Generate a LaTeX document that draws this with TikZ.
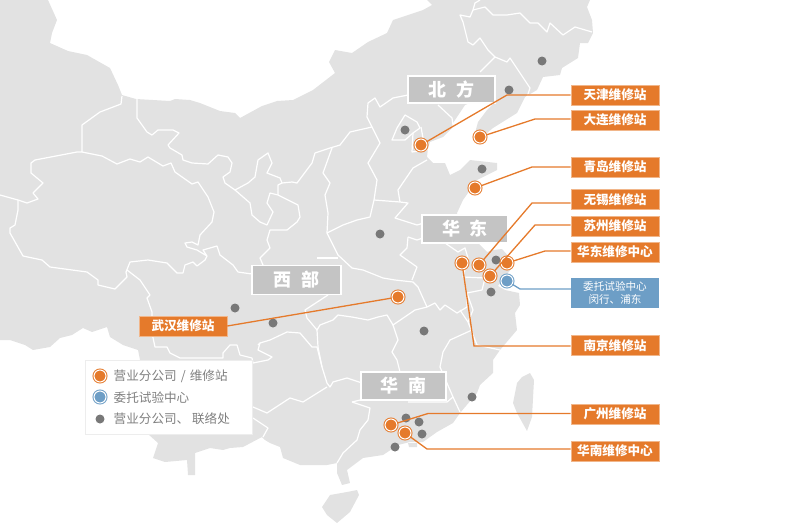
\documentclass[tikz,border=0pt]{standalone}
\usepackage{fontspec}
\setmainfont{Noto Sans CJK SC}
\usetikzlibrary{positioning, calc}

\definecolor{landgray}{HTML}{E2E2E2}
\definecolor{regiongray}{HTML}{C4C4C4}
\definecolor{siteorange}{HTML}{E57A2B}
\definecolor{testblue}{HTML}{6D9EC6}
\definecolor{dotgray}{HTML}{787878}
\definecolor{legendtext}{HTML}{808080}

\tikzset{
    land/.style={fill=landgray, draw=none},
    border/.style={draw=white, line width=1.2pt, line join=round},
    regionlabel/.style={rectangle, fill=regiongray, draw=white, line width=1.2pt, inner sep=0pt, text=white, font=\fontsize{18}{18}\bfseries\selectfont},
    sitelabel/.style={rectangle, fill=siteorange, draw=siteorange!55!white, line width=.6pt, minimum width=88pt, minimum height=20pt, inner sep=0pt, text=white, font=\fontsize{12.6}{12.6}\bfseries\selectfont},
    testlabel/.style={rectangle, fill=testblue, minimum width=88pt, minimum height=30pt, inner sep=0pt, align=center, text=white, font=\fontsize{10.6}{12.5}\selectfont},
    sitemark/.style={circle, fill=siteorange, draw=siteorange, double=white, double distance=1pt, line width=1pt, minimum size=12pt, inner sep=0pt},
    testmark/.style={circle, fill=testblue, draw=testblue, double=white, double distance=1pt, line width=1pt, minimum size=12pt, inner sep=0pt},
    officedot/.style={circle, fill=dotgray, minimum size=9pt, inner sep=0pt},
    leader/.style={draw=siteorange, line width=1.3pt},
    testleader/.style={draw=testblue, line width=1.3pt},
    legendbox/.style={rectangle, fill=white, draw=white!93!black, line width=.8pt, minimum width=167pt, minimum height=74pt, inner sep=0pt},
    legendentry/.style={anchor=west, inner sep=0pt, text=legendtext, font=\fontsize{12.6}{12.6}\selectfont}
}

\begin{document}
\begin{tikzpicture}[x=1pt, y=-1pt]
    \useasboundingbox (0,0) rectangle (800,525);

    % land
    \fill[land] (0,0) -- (48,0) -- (57,20) -- (52,33) -- (50,43) -- (68,51) -- (87,55) -- (110,68) -- (118,85) -- (122,95) -- (136,99) -- (170,101) -- (175,99) -- (190,100) -- (200,103) -- (220,111) -- (235,113) -- (240,118) -- (262,106) -- (277,101) -- (293,100) -- (313,90) -- (335,73) -- (329,62) -- (335,50) -- (352,53) -- (368,42) -- (387,33) -- (393,20) -- (423,10) -- (432,5) -- (427,0) -- (590,0) -- (587,7) -- (592,20) -- (593,33) -- (588,43) -- (580,43) -- (578,58) -- (562,68) -- (560,75) -- (543,77) -- (537,90) -- (525,97) -- (517,113) -- (493,128) -- (487,133) -- (475,133) -- (478,122) -- (487,110) -- (493,104) -- (470,103) -- (465,105) -- (453,123) -- (452,128) -- (443,137) -- (430,142) -- (428,148) -- (427,157) -- (433,163) -- (445,163) -- (450,175) -- (460,170) -- (470,160) -- (497,163) -- (497,170) -- (477,180) -- (468,193) -- (463,200) -- (457,213) -- (458,225) -- (478,243) -- (487,252) -- (493,250) -- (502,249) -- (510,258) -- (512,268) -- (503,279) -- (498,286) -- (505,290) -- (519,293) -- (520,305) -- (515,313) -- (517,330) -- (500,350) -- (493,360) -- (493,373) -- (480,385) -- (477,393) -- (460,413) -- (453,423) -- (437,432) -- (423,442) -- (410,442) -- (398,445) -- (383,455) -- (363,458) -- (347,470) -- (350,483) -- (342,485) -- (337,473) -- (337,463) -- (327,465) -- (300,465) -- (283,458) -- (280,447) -- (270,443) -- (265,440) -- (262,437) -- (243,447) -- (230,448) -- (223,450) -- (210,448) -- (195,453) -- (195,475) -- (188,475) -- (187,460) -- (165,462) -- (153,458) -- (158,443) -- (148,434) -- (140,360) -- (138,350) -- (123,345) -- (110,337) -- (107,327) -- (92,332) -- (83,328) -- (72,335) -- (60,338) -- (50,347) -- (33,350) -- (25,345) -- (10,340) -- (0,340) -- cycle;
    \fill[land] (322,507) -- (330,495) -- (347,492) -- (357,490) -- (359,495) -- (350,512) -- (337,523) -- (327,515) -- cycle;
    \fill[land] (530,373) -- (534,380) -- (532,417) -- (527,431) -- (517,413) -- (513,403) -- (517,383) -- (522,377) -- cycle;
    \fill[land] (408,443) -- (417,443) -- (417,447) -- (409,447) -- cycle;

    % west
    \draw[border] (122,96) -- (121,104) -- (100,112) -- (82,125) -- (82,152) -- (77,152) -- (35,160) -- (31,163) -- (31,173) -- (43,183) -- (33,193) -- (38,199) -- (27,203) -- (18,200) -- (0,195);
    \draw[border] (18,200) -- (18,210) -- (15,225) -- (10,228) -- (10,233) -- (23,256) -- (42,260) -- (50,267) -- (87,272) -- (98,280) -- (98,285) -- (115,289) -- (127,277) -- (126,272) -- (130,262) -- (148,260) -- (167,263) -- (177,273) -- (183,273) -- (185,265) -- (193,262) -- (197,266) -- (205,260) -- (207,256);
    \draw[border] (82,152) -- (102,156) -- (117,164) -- (130,159) -- (140,162) -- (148,157) -- (163,166) -- (171,163) -- (175,172) -- (192,184) -- (198,182) -- (208,197) -- (214,212) -- (212,222) -- (200,235) -- (198,245) -- (192,242) -- (185,243) -- (187,247) -- (197,250) -- (207,256) -- (203,250) -- (217,246) -- (220,255) -- (233,265) -- (238,272) -- (252,274);
    \draw[border] (127,270) -- (140,280) -- (150,295) -- (147,298) -- (152,312) -- (152,333) -- (155,347) -- (167,347) -- (170,353) -- (180,358) -- (223,358) -- (223,353) -- (230,345) -- (237,345) -- (240,355) -- (252,358) -- (253,363);
    \draw[border] (137,99) -- (137,118) -- (147,132) -- (152,135) -- (158,130) -- (173,130) -- (179,133) -- (168,145) -- (170,148) -- (182,155) -- (183,160) -- (192,163) -- (208,164) -- (218,155) -- (228,157) -- (232,163) -- (230,172) -- (223,177) -- (225,183) -- (235,190) -- (248,183) -- (255,177) -- (258,160) -- (268,153) -- (272,163) -- (267,173) -- (280,178) -- (282,183) -- (292,182) -- (297,183) -- (312,163) -- (315,153) -- (330,148) -- (340,145) -- (350,132) -- (372,127) -- (367,117) -- (368,103) -- (375,98) -- (380,107) -- (393,98) -- (408,95);
    \draw[border] (235,190) -- (250,203) -- (252,215) -- (260,222) -- (267,225) -- (273,212) -- (267,203) -- (270,193) -- (278,195) -- (298,205) -- (300,217) -- (297,222) -- (287,230) -- (270,230) -- (267,240) -- (270,248) -- (260,258) -- (263,265);
    \draw[border] (278,195) -- (278,185) -- (282,183);

    % north and east
    \draw[border] (332,148) -- (323,173) -- (330,183) -- (325,195) -- (328,213) -- (327,233) -- (338,255) -- (352,268) -- (363,270) -- (383,278) -- (395,280) -- (413,282) -- (418,287) -- (427,307);
    \draw[border] (327,233) -- (343,225) -- (357,220) -- (370,217) -- (374,200) -- (377,180) -- (368,163) -- (380,143) -- (372,127);
    \draw[border] (317,258) -- (338,258);
    \draw[border] (374,200) -- (400,202) -- (408,203) -- (395,218) -- (417,225) -- (424,223);
    \draw[border] (408,237) -- (417,240) -- (423,238);
    \draw[border] (408,237) -- (407,248) -- (400,255) -- (417,267) -- (412,280);
    \draw[border] (392,140) -- (397,128) -- (405,115) -- (417,122) -- (420,128) -- (413,133) -- (405,140) -- cycle;
    \draw[border] (421,127) -- (423,138) -- (427,150) -- (412,152) -- (413,133);
    \draw[border] (427,160) -- (413,168) -- (398,190) -- (400,202);
    \draw[border] (438,105) -- (452,118) -- (453,125);
    \draw[border] (480,72) -- (495,57) -- (488,50) -- (480,38) -- (473,45) -- (468,42) -- (463,22) -- (460,15) -- (470,17) -- (473,10) -- (475,3) -- (480,0);
    \draw[border] (473,10) -- (485,7) -- (493,15) -- (507,15) -- (520,13) -- (530,23) -- (538,23) -- (547,32) -- (550,23) -- (563,35) -- (575,27) -- (592,32);
    \draw[border] (495,57) -- (507,62) -- (510,58) -- (518,70) -- (530,88) -- (527,97);
    \draw[border] (445,243) -- (458,252) -- (465,248) -- (468,258) -- (463,277) -- (485,278) -- (482,290) -- (467,293) -- (473,310) -- (468,322);
    \draw[border] (427,307) -- (435,303) -- (440,310) -- (445,305) -- (457,313) -- (467,307) -- (467,293);
    \draw[border] (460,310) -- (468,322) -- (477,345) -- (500,350);
    \draw[border] (472,330) -- (450,340) -- (443,352) -- (440,367) -- (453,397) -- (460,412);

    % south
    \draw[border] (427,307) -- (415,310) -- (393,325) -- (387,315) -- (378,317) -- (368,320) -- (352,317) -- (338,315) -- (333,320) -- (320,325) -- (317,330) -- (307,318) -- (305,310) -- (328,295);
    \draw[border] (393,325) -- (398,340) -- (392,352) -- (397,360) -- (400,372);
    \draw[border] (258,345) -- (260,343) -- (270,340) -- (287,332) -- (300,333) -- (312,347) -- (317,347) -- (322,367) -- (327,383) -- (330,387) -- (333,382) -- (347,378) -- (353,380) -- (362,383);
    \draw[border] (317,330) -- (318,347) -- (322,367);
    \draw[border] (260,343) -- (258,350) -- (272,357) -- (268,360) -- (253,363);
    \draw[border] (253,407) -- (267,413) -- (290,398) -- (303,402) -- (327,387);
    \draw[border] (253,418) -- (268,428) -- (263,437);
    \draw[border] (352,402) -- (370,408) -- (368,420) -- (360,430) -- (357,440) -- (343,453) -- (337,463);
    \draw[border] (408,402) -- (447,402) -- (453,397);
    \draw[border] (352,402) -- (360,400);

    % regions
    \node[regionlabel, minimum width=87pt, minimum height=27pt] (north) at (451.5,89.5) {北\hspace{.55em}方};
    \node[regionlabel, minimum width=86pt, minimum height=28pt] (east) at (465,229) {华\hspace{.55em}东};
    \node[regionlabel, minimum width=89pt, minimum height=29pt] (west) at (296.5,280) {西\hspace{.55em}部};
    \node[regionlabel, minimum width=85pt, minimum height=28pt] (south) at (403.5,386) {华\hspace{.55em}南};

    % legend
    \node[legendbox] (legend) at (168.5,397) {};
    \node[sitemark] (legendsite) at (100,376) {};
    \node[testmark] (legendtest) at (100,397) {};
    \node[officedot] (legenddot) at (100,419) {};
    \node[legendentry] (legendsitetext) at (113.5,376) {营业分公司\hspace{.1em} / \hspace{.1em}维修站};
    \node[legendentry] (legendtesttext) at (113.5,398) {委托试验中心};
    \node[legendentry] (legenddottext) at (113.5,419) {营业分公司、 联络处};

    % offices
    \foreach \px/\py [count=\i] in {509/90, 542/61, 405/130, 482/169, 496/260, 491/292, 380/234, 424/331, 235/308, 273/323, 472/397, 406/418, 419/422, 422/434, 395/447}
        \node[officedot] (dot\i) at (\px,\py) {};

    % sites
    \node[sitemark] (tianjin) at (421,145) {};
    \node[sitemark] (dalian) at (480,137) {};
    \node[sitemark] (qingdao) at (475,188) {};
    \node[sitemark] (wuxi) at (479,265) {};
    \node[sitemark] (suzhou) at (490,276) {};
    \node[sitemark] (huadong) at (507,263) {};
    \node[sitemark] (nanjing) at (462,263) {};
    \node[testmark] (minhang) at (507,281) {};
    \node[sitemark] (wuhan) at (398,297) {};
    \node[sitemark] (guangzhou) at (391,425) {};
    \node[sitemark] (huanan) at (405,433) {};

    \node[sitelabel] (tianjinlabel) at (615,95) {天津维修站};
    \node[sitelabel] (dalianlabel) at (615,120) {大连维修站};
    \node[sitelabel] (qingdaolabel) at (615,167) {青岛维修站};
    \node[sitelabel] (wuxilabel) at (615,199.5) {无锡维修站};
    \node[sitelabel] (suzhoulabel) at (615,226) {苏州维修站};
    \node[sitelabel] (huadonglabel) at (615,252) {华东维修中心};
    \node[testlabel] (minhanglabel) at (615,293) {委托试验中心\\闵行、浦东};
    \node[sitelabel] (nanjinglabel) at (615,345.5) {南京维修站};
    \node[sitelabel] (guangzhoulabel) at (615,414) {广州维修站};
    \node[sitelabel] (huananlabel) at (615,451) {华南维修中心};
    \node[sitelabel] (wuhanlabel) at (183,326) {武汉维修站};

    % leaders
    \coordinate (tianjinbend) at (507,95);
    \coordinate (dalianbend) at (535,119);
    \coordinate (qingdaobend) at (532,167);
    \coordinate (wuxibend) at (532,203);
    \coordinate (suzhoubend) at (535,225);
    \coordinate (huadongbend) at (545,251);
    \coordinate (minhangbend) at (520,289);
    \coordinate (nanjingbend) at (474,346);
    \coordinate (guangzhoubend) at (428,413.5);
    \coordinate (huananbend) at (427,449);

    \draw[leader] (tianjin) -- (tianjinbend) -- (tianjinbend -| tianjinlabel.west);
    \draw[leader] (dalian) -- (dalianbend) -- (dalianbend -| dalianlabel.west);
    \draw[leader] (qingdao) -- (qingdaobend) -- (qingdaobend -| qingdaolabel.west);
    \draw[leader] (wuxi) -- (wuxibend) -- (wuxibend -| wuxilabel.west);
    \draw[leader] (suzhou) -- (suzhoubend) -- (suzhoubend -| suzhoulabel.west);
    \draw[leader] (huadong) -- (huadongbend) -- (huadongbend -| huadonglabel.west);
    \draw[testleader] (minhang) -- (minhangbend) -- (minhangbend -| minhanglabel.west);
    \draw[leader] (nanjing) -- (nanjingbend) -- (nanjingbend -| nanjinglabel.west);
    \draw[leader] (guangzhou) -- (guangzhoubend) -- (guangzhoubend -| guangzhoulabel.west);
    \draw[leader] (huanan) -- (huananbend) -- (huananbend -| huananlabel.west);
    \draw[leader] (wuhan) -- (wuhanlabel.east);
\end{tikzpicture}
\end{document}
